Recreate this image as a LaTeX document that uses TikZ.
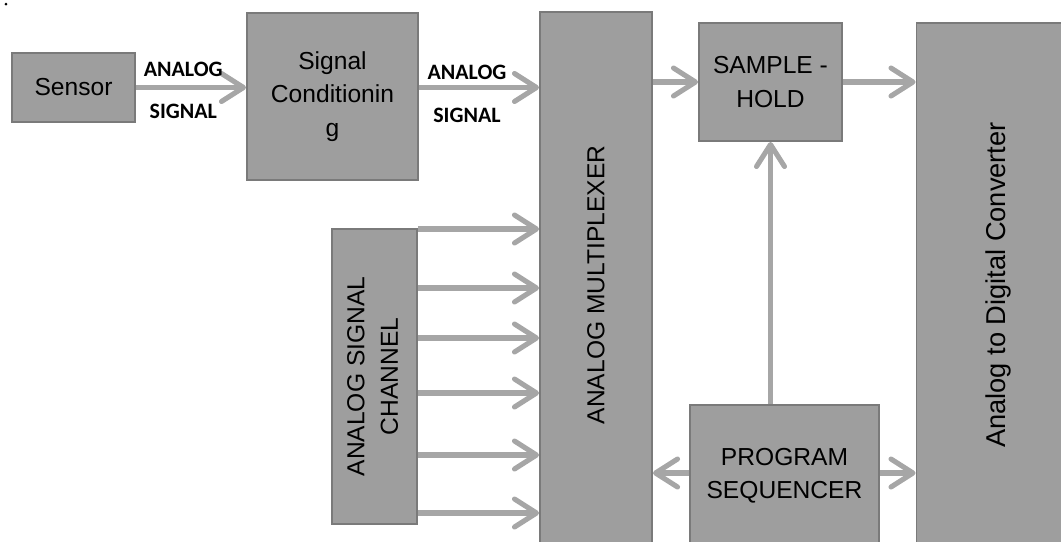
\documentclass[tikz,border=0pt]{standalone}
\usepackage{fontspec}
\setmainfont{Liberation Sans}
\newfontfamily\lblfont{Carlito}
\usetikzlibrary{arrows.meta}
\definecolor{blkfill}{HTML}{9E9E9E}
\definecolor{blkline}{HTML}{7A7A7A}
\definecolor{arrgray}{HTML}{A6A6A6}

\begin{document}
\begin{tikzpicture}[font=\fontsize{14}{19}\selectfont,
  blk/.style={draw=blkline, line width=1.1pt, fill=blkfill, align=center, inner sep=0pt},
  arr/.style={draw=arrgray, line width=2.9pt, -{Straight Barb[length=0.44cm, width=0.56cm, round]}},
  lbl/.style={font=\lblfont\bfseries\fontsize{12.5}{12.5}\selectfont, inner sep=0pt}]
  \useasboundingbox (0,0) rectangle (21.22,-10.82);
  \clip (0,0) rectangle (21.22,-10.82);
  \fill (0.12,-0.08) circle (0.03);
  % blocks
  \node[blk, minimum width=2.46cm, minimum height=1.38cm] (sensor) at (1.47,-1.75) {Sensor};
  \node[blk, minimum width=3.42cm, minimum height=3.34cm] (sc) at (6.65,-1.93) {Signal\\Conditionin\\g};
  \node[blk, minimum width=2.24cm, minimum height=10.92cm] (am) at (11.92,-5.70)
    {\rotatebox{90}{ANALOG MULTIPLEXER}};
  \node[blk, minimum width=2.86cm, minimum height=2.36cm] (sh) at (15.41,-1.64) {SAMPLE -\\HOLD};
  \node[blk, minimum width=3.28cm, minimum height=10.48cm] (adc) at (19.97,-5.70)
    {\rotatebox{90}{\fontsize{15.5}{19}\selectfont Analog to Digital Converter}};
  \node[blk, minimum width=1.70cm, minimum height=5.90cm] (ch) at (7.49,-7.53)
    {\rotatebox{90}{\begin{tabular}{@{}c@{}}ANALOG SIGNAL\\CHANNEL\end{tabular}}};
  \node[blk, minimum width=3.78cm, minimum height=2.84cm] (ps) at (15.69,-9.52) {PROGRAM\\SEQUENCER};
  % signal path
  \draw[arr] (sensor.east) -- (sensor.east -| sc.west)
    node[lbl, pos=.43, yshift=0.37cm] (a1) {ANALOG}
    node[lbl, pos=.43, yshift=-0.47cm] (s1) {SIGNAL};
  \draw[arr] (sc.east |- sensor.east) -- (am.west |- sensor.east)
    node[lbl, pos=.40, yshift=0.30cm] (a2) {ANALOG}
    node[lbl, pos=.40, yshift=-0.55cm] (s2) {SIGNAL};
  \draw[arr] (am.east |- sh.west) -- (sh.west);
  \draw[arr] (sh.east) -- (sh.east -| adc.west);
  % channels
  \foreach \y in {-4.58,-5.76,-6.76,-7.86,-9.10,-10.26}
    \draw[arr] (ch.east |- 0,\y) -- (am.west |- 0,\y);
  % sequencer
  \draw[arr] (sh.south |- ps.north) -- (sh.south);
  \draw[arr] (ps.west |- 0,-9.46) -- (am.east |- 0,-9.46);
  \draw[arr] (ps.east |- 0,-9.46) -- (adc.west |- 0,-9.46);
\end{tikzpicture}
\end{document}
